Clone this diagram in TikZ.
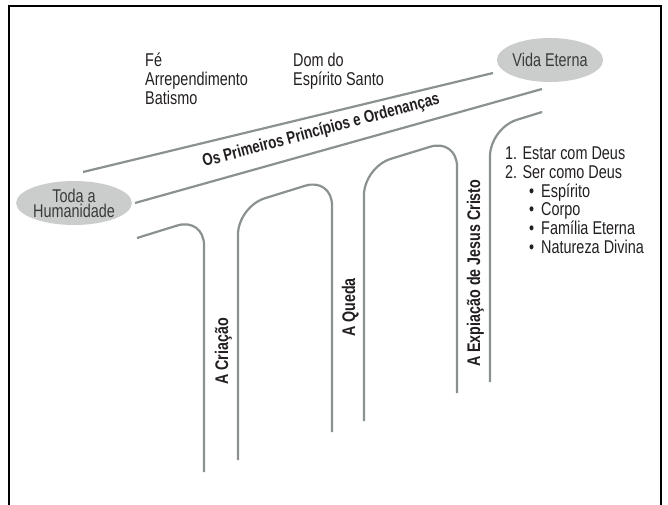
\documentclass[tikz,border=0pt]{standalone}
\usepackage{fontspec}
\setmainfont{Liberation Sans}[FakeStretch=0.78]
\usetikzlibrary{shapes.geometric}
\definecolor{beam}{HTML}{8A918F}
\definecolor{ovalfill}{HTML}{CBCDCD}
\definecolor{ink}{HTML}{231F20}
\definecolor{ovaltext}{HTML}{3A3A3A}
\begin{document}
\begin{tikzpicture}[x=1pt,y=-1pt,
  beamline/.style={draw=beam, line width=2.2pt, rounded corners=28pt},
  frameline/.style={draw=black, line width=2pt},
  lbl/.style={font=\fontsize{18.5}{17.8}\selectfont, text=ink, inner sep=0pt, anchor=base west},
  vlbl/.style={font=\bfseries\fontsize{18.3}{17.8}\selectfont, text=ink, inner sep=0pt, rotate=90, anchor=base west},
  oval/.style={ellipse, fill=ovalfill, text=ovaltext, minimum width=100pt, minimum height=44pt, inner sep=0pt, align=center, font=\fontsize{18.5}{15}\selectfont}]
\useasboundingbox (0,0) rectangle (668,505);
% frame
\draw[frameline] (9,510) -- (9,6) -- (661,6) -- (661,510);
% ovals
\node[oval] (toda) at (74,203) {Toda a\\Humanidade};
\node[oval] (vida) at (550,60) {Vida Eterna};
% beam
\coordinate (bu1) at (83,172);
\coordinate (bu2) at (493,73);
\coordinate (bl1) at (135,203);
\coordinate (bl2) at (542,89);
\draw[beamline] (bu1) -- (bu2);
\draw[beamline] (bl1) -- (bl2);
% arches
\draw[beamline] (137,238) -- (204,217.2) -- (204,472);
\draw[beamline] (238,460) -- (238,206.6) -- (332,177.4) -- (332,432);
\draw[beamline] (364,421) -- (364,167.1) -- (457,138.5) -- (457,393);
\draw[beamline] (542,112) -- (490,128.2) -- (490,382);
% labels
\node[lbl] (fe) at (145,67) {\begin{tabular}[t]{@{}l@{}}Fé\\Arrependimento\\Batismo\end{tabular}};
\node[lbl] (dom) at (293,67) {\begin{tabular}[t]{@{}l@{}}Dom do\\Espírito Santo\end{tabular}};
\node[lbl] (lista) at (505,160) {\begin{tabular}[t]{@{}l@{}}1. Estar com Deus\\2. Ser como Deus\\
\hspace*{24pt}\makebox[12pt][l]{•}Espírito\\
\hspace*{24pt}\makebox[12pt][l]{•}Corpo\\
\hspace*{24pt}\makebox[12pt][l]{•}Família Eterna\\
\hspace*{24pt}\makebox[12pt][l]{•}Natureza Divina\end{tabular}};
\node[font=\bfseries\fontsize{17.2}{17.8}\selectfont, text=ink, inner sep=0pt, anchor=base west, rotate=15] (beamtxt) at (204,167) {Os Primeiros Princípios e Ordenanças};
\node[vlbl] (criacao) at (228,385) {A Criação};
\node[vlbl] (queda) at (355,337) {A Queda};
\node[vlbl] (expiacao) at (480,367) {A Expiação de Jesus Cristo};
\end{tikzpicture}
\end{document}
